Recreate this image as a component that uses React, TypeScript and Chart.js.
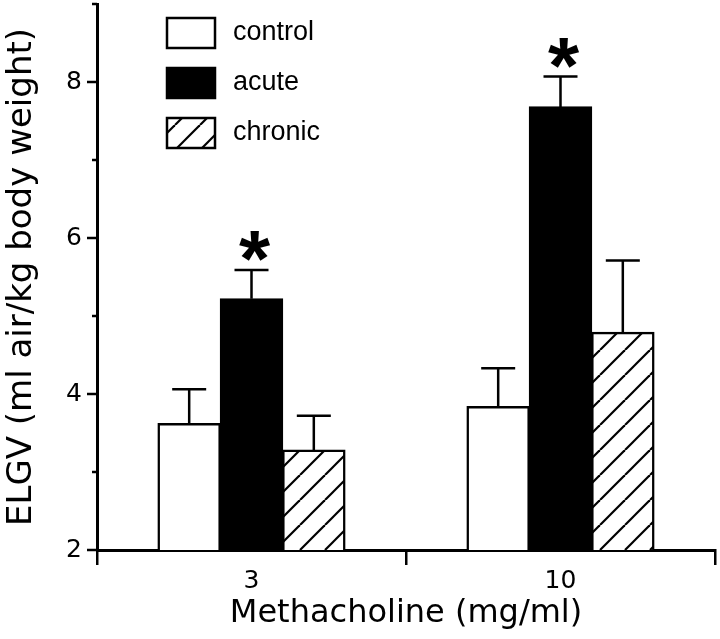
import React, { useEffect, useRef } from 'react';
import { Chart, registerables } from 'chart.js';

Chart.register(...registerables);

// ---- data ----
const doses = ['3', '10'];
const seriesNames = ['control', 'acute', 'chronic'];
const controlMean = [3.62, 3.84];
const controlSem = [0.44, 0.49];
const acuteMean = [5.22, 7.68];
const acuteSem = [0.37, 0.39];
const chronicMean = [3.28, 4.79];
const chronicSem = [0.44, 0.92];
const acuteSignificant = [true, true];
const yMin = 2;
const yMax = 9;
const yLabelled = [2, 4, 6, 8];

const xTitle = 'Methacholine (mg/ml)';
const yTitle = 'ELGV (ml air/kg body weight)';

const AXIS_FONT = 'DejaVu Sans';
const LEGEND_FONT = 'Liberation Sans';

function makeHatch(ctx: CanvasRenderingContext2D) {
  const s = 25;
  const c = document.createElement('canvas');
  c.width = s;
  c.height = s;
  const g = c.getContext('2d')!;
  g.fillStyle = '#ffffff';
  g.fillRect(0, 0, s, s);
  g.strokeStyle = '#000000';
  g.lineWidth = 2.2;
  for (const off of [-s, 0, s]) {
    g.beginPath();
    g.moveTo(off, s);
    g.lineTo(off + s, 0);
    g.stroke();
  }
  return ctx.createPattern(c, 'repeat') as CanvasPattern;
}

export default function App() {
  const ref = useRef<HTMLCanvasElement | null>(null);

  useEffect(() => {
    const canvas = ref.current!;
    const ctx = canvas.getContext('2d')!;
    const hatch = makeHatch(ctx);
    const errors = [controlSem, acuteSem, chronicSem];
    const significant = [null, acuteSignificant, null];

    const errorBars = {
      id: 'errorBars',
      afterDatasetsDraw(chart: any) {
        const c = chart.ctx;
        const ys = chart.scales.y;
        chart.data.datasets.forEach((ds: any, di: number) => {
          const meta = chart.getDatasetMeta(di);
          meta.data.forEach((bar: any, i: number) => {
            const v = ds.data[i];
            const e = errors[di][i];
            const base = ys.getPixelForValue(v);
            const top = ys.getPixelForValue(v + e);
            c.save();
            c.strokeStyle = '#000';
            c.lineWidth = 2.5;
            c.beginPath();
            c.moveTo(bar.x, base);
            c.lineTo(bar.x, top);
            c.moveTo(bar.x - 17, top);
            c.lineTo(bar.x + 17, top);
            c.stroke();
            const sig = significant[di];
            if (sig && sig[i]) {
              c.fillStyle = '#000';
              c.font = `bold 80px "${LEGEND_FONT}"`;
              c.textAlign = 'center';
              c.textBaseline = 'alphabetic';
              c.fillText('*', bar.x + 3, top - 30 + 46);
            }
            c.restore();
          });
        });
      },
    };

    const yTicks = {
      id: 'yTicks',
      afterDraw(chart: any) {
        const c = chart.ctx;
        const ys = chart.scales.y;
        const x0 = chart.chartArea.left;
        c.save();
        c.strokeStyle = '#000';
        c.lineWidth = 2.5;
        for (let v = yMin; v <= yMax; v++) {
          const py = ys.getPixelForValue(v);
          const len = yLabelled.includes(v) ? 10 : 5;
          c.beginPath();
          c.moveTo(x0 - len, py);
          c.lineTo(x0, py);
          c.stroke();
        }
        c.restore();
      },
    };

    const legend = {
      id: 'customLegend',
      afterDraw(chart: any) {
        const c = chart.ctx;
        const left = chart.chartArea.left + 70;
        const top0 = chart.chartArea.top + 14;
        c.save();
        chart.data.datasets.forEach((ds: any, i: number) => {
          const by = top0 + i * 50;
          c.fillStyle = ds.backgroundColor;
          c.fillRect(left, by, 48, 30);
          c.strokeStyle = '#000';
          c.lineWidth = 2.5;
          c.strokeRect(left, by, 48, 30);
          c.fillStyle = '#000';
          c.font = `27px "${LEGEND_FONT}"`;
          c.textAlign = 'left';
          c.textBaseline = 'middle';
          c.fillText(ds.label, left + 66, by + 15);
        });
        c.restore();
      },
    };

    const chart = new Chart(ctx, {
      type: 'bar',
      data: {
        labels: doses,
        datasets: [
          { label: seriesNames[0], data: controlMean, backgroundColor: '#ffffff', borderColor: '#000', borderWidth: 2.5, inflateAmount: 0.6 },
          { label: seriesNames[1], data: acuteMean, backgroundColor: '#000000', borderColor: '#000', borderWidth: 2.5, inflateAmount: 0.6 },
          { label: seriesNames[2], data: chronicMean, backgroundColor: hatch as any, borderColor: '#000', borderWidth: 2.5, inflateAmount: 0.6 },
        ],
      },
      options: {
        responsive: false,
        animation: false,
        layout: { padding: { top: 4, right: 5, left: 0, bottom: 0 } },
        datasets: { bar: { categoryPercentage: 0.605, barPercentage: 1.0 } },
        plugins: { legend: { display: false }, tooltip: { enabled: false } },
        scales: {
          x: {
            type: 'category',
            offset: true,
            z: 1,
            grid: { display: true, drawOnChartArea: false, drawTicks: true, tickLength: 15, offset: true, color: '#000', lineWidth: 2.5 },
            border: { display: true, color: '#000', width: 3 },
            ticks: { color: '#000', font: { family: AXIS_FONT, size: 25 }, padding: 1 },
            title: { display: true, text: xTitle, color: '#000', font: { family: AXIS_FONT, size: 32 }, padding: { top: 0, bottom: 6 } },
            afterFit(s: any) { s.height = 89; s.paddingLeft = 0; s.paddingRight = 0; },
          },
          y: {
            type: 'linear',
            min: yMin,
            max: yMax,
            z: 1,
            grid: { display: false, drawTicks: true, tickLength: 10 },
            border: { display: true, color: '#000', width: 3 },
            ticks: {
              stepSize: 1,
              color: '#000',
              font: { family: AXIS_FONT, size: 25 },
              padding: 5,
              callback: (v: any) => (yLabelled.includes(Number(v)) ? String(v) : ''),
            },
            title: { display: true, text: yTitle, color: '#000', font: { family: AXIS_FONT, size: 34 }, padding: { top: 2, bottom: 0 } },
            afterFit(s: any) { s.width = 97; s.paddingTop = 0; s.paddingBottom = 0; },
          },
        },
      },
      plugins: [errorBars, yTicks, legend],
    });
    return () => chart.destroy();
  }, []);

  return (
    <div style={{ position: 'fixed', left: 0, top: 0, width: 720, height: 639, background: '#fff' }}>
      <canvas ref={ref} width={720} height={639} style={{ display: 'block' }} />
    </div>
  );
}
